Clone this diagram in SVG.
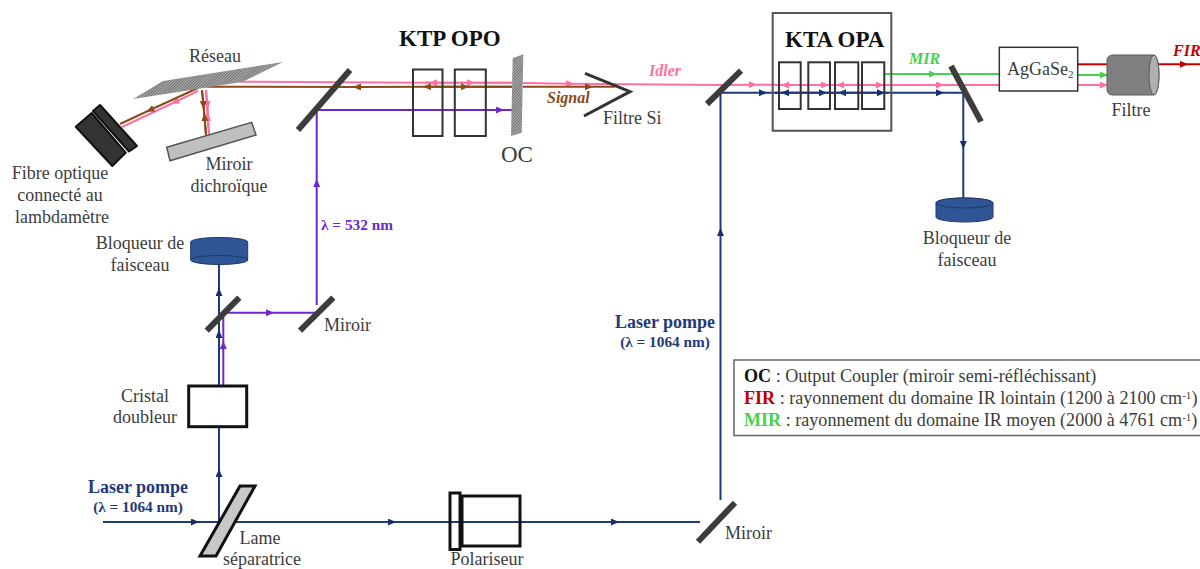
<svg xmlns="http://www.w3.org/2000/svg" width="1200" height="569" viewBox="0 0 1200 569">
<style>
text{font-family:"Liberation Serif","Times New Roman",serif;font-size:18px;fill:#3c3c3c}
.m{text-anchor:middle}
.h{font-size:23px;font-weight:bold;fill:#111}
.lp{font-size:18px;font-weight:bold;fill:#1f3a78}
.ls{font-size:15.300px;font-weight:bold;fill:#1f3a78}
.tag{font-size:16px;font-weight:bold;font-style:italic}
.lg{font-size:18.100px}
.b{font-weight:bold}
.mir{stroke:#3c3c3c;stroke-width:6;fill:none}
.box{fill:none;stroke:#333;stroke-width:2}
.k{fill:none;stroke:#111;stroke-width:3}
.dk{fill:#333;stroke:#111;stroke-width:2;stroke-linejoin:round}
.bl{fill:#2f5597;stroke:#1f3a68;stroke-width:1}
.c path{fill:none;stroke-width:2}
.nv{stroke:#1c3a7c;marker-mid:url(#an)}
.pk{stroke:#ff70a0;marker-mid:url(#ap)}
.br{stroke:#8a4a1c;marker-mid:url(#ab)}
.pu{stroke:#7026d0;marker-mid:url(#au)}
.gr{stroke:#46d24e;marker-mid:url(#ag)}
.rd{stroke:#c00000;marker-mid:url(#ar)}
</style>
<defs>
<pattern id="hatch" width="2" height="2" patternUnits="userSpaceOnUse" patternTransform="rotate(45)">
<rect width="2" height="2" fill="#b0b0b0"/><rect width="0.900" height="2" fill="#6a6a6a"/>
</pattern>
<marker id="an" markerWidth="9" markerHeight="8" refX="4" refY="3.500" orient="auto" markerUnits="userSpaceOnUse"><path d="M0 0L8 3.500L0 7Z" fill="#14306e"/></marker>
<marker id="ap" markerWidth="9" markerHeight="8" refX="4" refY="3.500" orient="auto" markerUnits="userSpaceOnUse"><path d="M0 0L8 3.500L0 7Z" fill="#ff70a0"/></marker>
<marker id="ab" markerWidth="9" markerHeight="8" refX="4" refY="3.500" orient="auto" markerUnits="userSpaceOnUse"><path d="M0 0L8 3.500L0 7Z" fill="#8a4a1c"/></marker>
<marker id="au" markerWidth="9" markerHeight="8" refX="4" refY="3.500" orient="auto" markerUnits="userSpaceOnUse"><path d="M0 0L8 3.500L0 7Z" fill="#7026d0"/></marker>
<marker id="ag" markerWidth="9" markerHeight="8" refX="4" refY="3.500" orient="auto" markerUnits="userSpaceOnUse"><path d="M0 0L8 3.500L0 7Z" fill="#46d24e"/></marker>
<marker id="ar" markerWidth="9" markerHeight="8" refX="4" refY="3.500" orient="auto" markerUnits="userSpaceOnUse"><path d="M0 0L8 3.500L0 7Z" fill="#c00000"/></marker>
</defs>

<g id="connectors" class="c">
<!-- idler -->
<path class="pk" d="M198 91L175 102L122 127"/>
<path class="pk" d="M240 81.700L430 82.700"/>
<path class="pk" d="M512 82.700L433 82.700L425 82.700"/>
<path class="pk" d="M425 82.700L471 82.700L512 82.700"/>
<path class="pk" d="M523 83L570 83.800L720 85"/>
<path class="pk" d="M206 90L207.500 105L209 135"/>
<path class="pk" d="M209 135L207.500 117L206 90"/>
<path class="pk" d="M720 85L753 84.800L775 84.800"/>
<path class="pk" d="M832 85L785 85L775 85"/>
<path class="pk" d="M775 85L825 85L832 85"/>
<path class="pk" d="M884 85L840 85L832 85"/>
<path class="pk" d="M832 85L880 85L884 85"/>
<path class="pk" d="M884 85L940 85L1000 85"/>
<path class="pk" d="M1078 85L1104 85L1108 85"/>
<!-- signal -->
<path class="br" d="M198 88L150 110L120 124"/>
<path class="br" d="M360 87L357 87L207 86.700"/>
<path class="br" d="M512 86.700L427 86.700L360 86.900"/>
<path class="br" d="M425 86.700L465 86.700L512 86.700"/>
<path class="br" d="M523 86.700L589 86.700L615 86.700"/>
<path class="br" d="M202 90L203.500 105L206 135"/>
<path class="br" d="M206 135L204.500 117L202 90"/>
<!-- pump -->
<path class="nv" d="M103 522L195 522L392 522L615 522L700 522"/>
<path class="nv" d="M219 522L219 473L219 426"/>
<path class="nv" d="M219 386L219 334L219 292L219 264"/>
<path class="nv" d="M720.500 500L720.500 232L720.500 92.700"/>
<path class="nv" d="M720.500 92.700L763 92.700L823 92.700L836 92.700"/>
<path class="nv" d="M836 92.700L785 92.700L775 92.700"/>
<path class="nv" d="M888 92.700L842 92.700L836 92.700"/>
<path class="nv" d="M836 92.700L881 92.700L940 92.700L963.300 92.700"/>
<path class="nv" d="M963.300 92.700L963.300 145L963.300 200"/>
<!-- doubled -->
<path class="pu" d="M223.300 386L223.300 345L223.300 312"/>
<path class="pu" d="M227 312.700L270 312.700L317 312.700"/>
<path class="pu" d="M316.700 305L316.700 183L316.700 110"/>
<path class="pu" d="M316.700 110L500 110L512 110"/>
<!-- MIR / FIR -->
<path class="gr" d="M884 74L933 74L1000 74"/>
<path class="gr" d="M1078 75L1104 75L1108 75"/>
<path class="rd" d="M1078 64.300L1108 64.300"/>
<path class="rd" d="M1158 64.300L1184 64.300L1200 64.300"/>
</g>

<g id="grating"><polygon points="133,99 163,81 283,62 242,82" fill="url(#hatch)"/><text x="189" y="62">Réseau</text></g>
<g id="fiber">
<polygon class="dk" points="75.700,126.700 91.700,113 125.700,152.700 112.300,166"/>
<polygon class="dk" points="93,111 100,105 137,146 129,151.500"/>
<text class="m" x="60" y="179">Fibre optique</text><text class="m" x="60" y="201">connecté au</text><text class="m" x="62" y="223">lambdamètre</text>
</g>
<g id="dichroic"><polygon points="166.700,147.300 251.700,122.300 256,135 170,160.700" fill="#bfbfbf" stroke="#555" stroke-width="1.500"/><text class="m" x="229" y="170">Miroir</text><text class="m" x="229" y="192">dichroïque</text></g>
<g id="mirror-top"><line class="mir" x1="298" y1="130" x2="350" y2="70"/></g>
<g id="ktp-opo"><rect class="box" x="413" y="69.500" width="29.500" height="66.500"/><rect class="box" x="454.800" y="69.500" width="31" height="66.500"/><text class="h" x="399" y="46">KTP OPO</text></g>
<g id="oc"><polygon points="512.700,58.300 523.300,54.300 521.700,132.700 511,136" fill="url(#hatch)"/><text x="501" y="162" style="font-size:23px">OC</text></g>
<g id="si-filter"><polyline points="585,73.300 630,91.700 584,116" fill="none" stroke="#333" stroke-width="3"/><text x="603" y="124">Filtre Si</text></g>
<g id="tag-idler"><text class="tag" x="649" y="76" style="fill:#ff70a0">Idler</text></g>
<g id="tag-signal"><text class="tag" x="547" y="103" style="fill:#8a4a1c">Signal</text></g>
<g id="mirror-opa"><line class="mir" x1="707" y1="104" x2="741" y2="70.700"/></g>
<g id="kta-opa">
<path d="M772.700 13L891.300 13L891.300 130.700L772.700 130.700Z" fill="none" stroke="#555" stroke-width="2"/>
<rect class="box" x="779" y="62.300" width="21.700" height="46.700"/><rect class="box" x="808.300" y="62.300" width="21.700" height="46.700"/><rect class="box" x="835" y="62.300" width="23.300" height="46.700"/><rect class="box" x="862" y="62.300" width="22.300" height="46.700"/>
<text class="h" x="785" y="47">KTA OPA</text>
</g>
<g id="tag-mir"><text class="tag" x="909" y="64" style="fill:#46d24e">MIR</text></g>
<g id="mirror-mir"><line class="mir" x1="951" y1="66" x2="981" y2="121.700"/></g>
<g id="agse"><rect x="999.300" y="47.300" width="78.400" height="43.700" fill="#fff" stroke="#333" stroke-width="1.500"/><text x="1007" y="75">AgGaSe<tspan dy="3" font-size="11">2</tspan></text></g>
<g id="filter"><path d="M1113 55L1154 55A5 20 0 0 1 1154 95L1113 95Q1107 95 1107 89L1107 61Q1107 55 1113 55Z" fill="#7f7f7f" stroke="#5a5a5a"/><ellipse cx="1154" cy="75" rx="5" ry="20" fill="#b0b0b0" stroke="#5a5a5a"/><text class="m" x="1131" y="116">Filtre</text></g>
<g id="tag-fir"><text class="tag" x="1173" y="56" style="fill:#c00000">FIR</text></g>
<g id="blocker-right"><path class="bl" d="M936 203A28.500 5 0 0 1 993 203L993 217A28.500 5 0 0 1 936 217Z"/><ellipse class="bl" cx="964.500" cy="203" rx="28.500" ry="5"/><text class="m" x="967" y="244">Bloqueur de</text><text class="m" x="967" y="266">faisceau</text></g>
<g id="blocker-left"><path class="bl" d="M190.700 242A28.500 4.500 0 0 1 247.700 242L247.700 260A28.500 4.500 0 0 1 190.700 260Z"/><path d="M190.700 260A28.500 4.500 0 0 1 247.700 260" fill="none" stroke="#1f3a68"/><text class="m" x="140" y="249">Bloqueur de</text><text class="m" x="140" y="271">faisceau</text></g>
<g id="mirror-split"><line class="mir" x1="206.700" y1="330.700" x2="239.300" y2="297.700"/></g>
<g id="mirror-532"><line class="mir" x1="300" y1="330.700" x2="333.300" y2="297.700"/><text x="324" y="331">Miroir</text></g>
<g id="tag-532"><text class="ls" x="321" y="230" style="fill:#7026d0">λ = 532 nm</text></g>
<g id="doubler"><rect class="k" x="188.700" y="386" width="58" height="40.700"/><text class="m" x="145" y="402">Cristal</text><text class="m" x="145" y="423">doubleur</text></g>
<g id="beam-splitter"><polygon points="200,556 216,556 255,486 240,486" fill="#c8c8c8" stroke="#111" stroke-width="3"/><text class="m" x="260" y="544">Lame</text><text class="m" x="262" y="565">séparatrice</text></g>
<g id="tag-pump-left"><text class="lp m" x="138" y="493">Laser pompe</text><text class="ls m" x="138" y="512">(λ = 1064 nm)</text></g>
<g id="polarizer"><rect class="k" x="450" y="493" width="10" height="56.500"/><rect class="k" x="462" y="496" width="58" height="50"/><text class="m" x="487" y="565">Polariseur</text></g>
<g id="mirror-bottom"><line class="mir" x1="698" y1="541.700" x2="735" y2="502.700"/><text x="725" y="539">Miroir</text></g>
<g id="tag-pump-right"><text class="lp m" x="665" y="328">Laser pompe</text><text class="ls m" x="665" y="347">(λ = 1064 nm)</text></g>
<g id="legend">
<rect x="734" y="360" width="480" height="75.500" fill="#fff" stroke="#666" stroke-width="1.500"/>
<text class="lg" x="744" y="382"><tspan class="b" fill="#111">OC</tspan> : Output Coupler (miroir semi-réfléchissant)</text>
<text class="lg" x="744" y="404"><tspan class="b" fill="#c00000">FIR</tspan> : rayonnement du domaine IR lointain (1200 à 2100 cm<tspan dy="-5" font-size="11">-1</tspan><tspan dy="5">)</tspan></text>
<text class="lg" x="744" y="426"><tspan class="b" fill="#46d24e">MIR</tspan> : rayonnement du domaine IR moyen (2000 à 4761 cm<tspan dy="-5" font-size="11">-1</tspan><tspan dy="5">)</tspan></text>
</g>
</svg>
